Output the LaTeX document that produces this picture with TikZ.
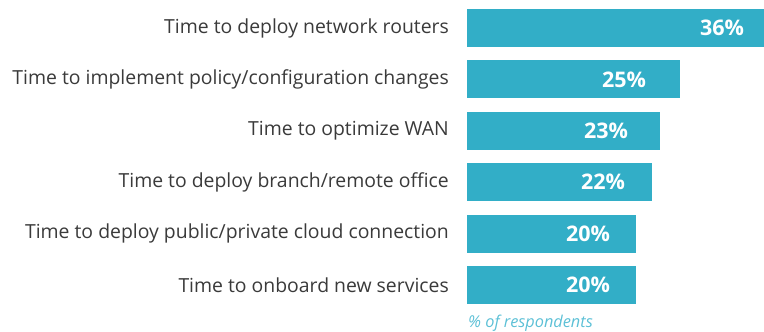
\documentclass[tikz,border=0pt]{standalone}
\usepackage{fontspec}
\setmainfont{Open Sans}
\definecolor{barblue}{HTML}{32AEC7}
\definecolor{labelgray}{HTML}{3A3A3A}
\definecolor{notecyan}{HTML}{5CC0D6}
\begin{document}
\begin{tikzpicture}[x=1pt,y=-1pt,
    bar/.style={fill=barblue},
    lbl/.style={anchor=east, inner sep=0pt, text=labelgray, font=\fontsize{19.4}{22}\selectfont},
    pct/.style={text=white, font=\bfseries\fontsize{21.5}{25}\selectfont},
    note/.style={anchor=west, inner sep=0pt, text=notecyan, font=\itshape\fontsize{16.3}{19}\selectfont}]
    \useasboundingbox (0,0) rectangle (764,332);

    % Bars with category labels and values
    \foreach \i/\w/\c/\v/\t in {
        1/764/722/36/{Time to deploy network routers},
        2/680/624/25/{Time to implement policy/configuration changes},
        3/660/606/23/{Time to optimize WAN},
        4/652/603/22/{Time to deploy branch/remote office},
        5/636/588/20/{Time to deploy public/private cloud connection},
        6/636/588/20/{Time to onboard new services}} {
        \pgfmathsetmacro\yt{9+51.4*(\i-1)}
        \fill[bar] (467,\yt) rectangle (\w,\yt+38);
        \node[lbl] (l\i) at (449,\yt+19) {\t};
        \node[pct] (p\i) at (\c,\yt+19) {\v\%};
    }

    % Footnote
    \node[note] (resp) at (468,323) {\% of respondents};
\end{tikzpicture}
\end{document}
